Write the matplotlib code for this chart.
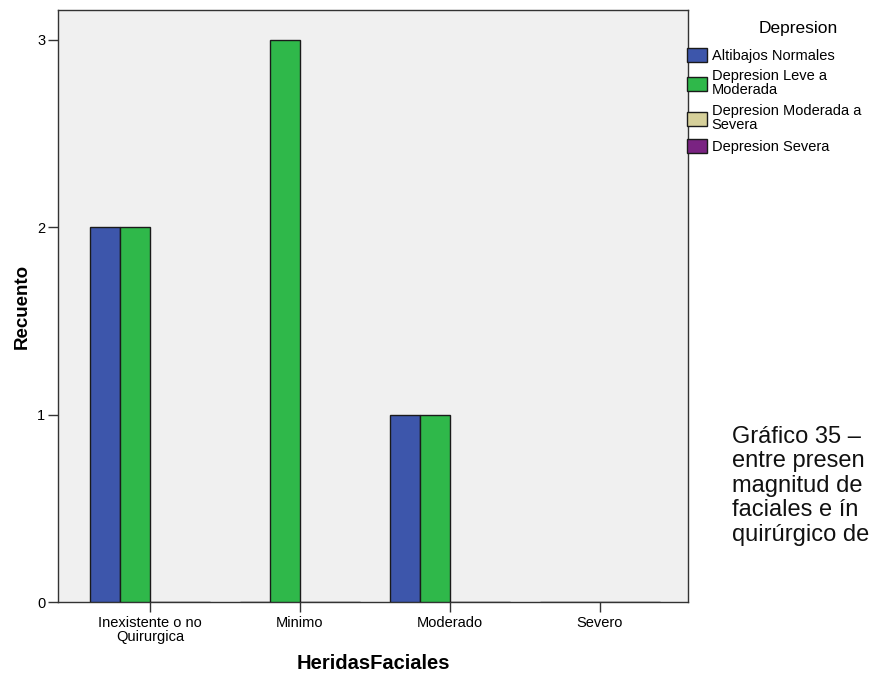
import matplotlib.pyplot as plt
import numpy as np
from matplotlib.patches import Patch

plt.rcParams['font.family'] = ['Liberation Sans', 'DejaVu Sans']

categories = ["Inexistente o no\nQuirurgica", "Minimo", "Moderado", "Severo"]
series_names = ["Altibajos Normales", "Depresion Leve a\nModerada",
                "Depresion Moderada a\nSevera", "Depresion Severa"]
altibajos = [2, 0, 1, 0]
leve_moderada = [2, 3, 1, 0]
moderada_severa = [0, 0, 0, 0]
severa = [0, 0, 0, 0]
colors = ["#3d56ab", "#2fb84a", "#d6d09a", "#7a2382"]

# caption from the document page, cut by the right edge of the picture
caption_lines = ["Gráfico 35 –", "entre presen", "magnitud de",
                 "faciales e ín", "quirúrgico de"]

fig = plt.figure(figsize=(8.8, 6.75), dpi=100)
ax = fig.add_axes([58 / 880, 73 / 675, 630 / 880, 592 / 675])
ax.set_facecolor("#f0f0f0")

x = np.arange(len(categories))
width = 0.2
series = [altibajos, leve_moderada, moderada_severa, severa]
for i, (vals, col) in enumerate(zip(series, colors)):
    ax.bar(x + (i - 1.5) * width, vals, width, color=col,
           edgecolor="#1a1a1a", linewidth=1.0, zorder=3)

ax.set_xlim(-0.613, 3.587)
ax.set_ylim(0, 3.158)
ax.set_xticks(x)
ax.set_xticklabels(categories, fontsize=10.5, linespacing=1.05)
ax.set_yticks([0, 1, 2, 3])
ax.set_yticklabels(["0", "1", "2", "3"], fontsize=10.5)
ax.tick_params(axis="x", length=7, width=1, color="#333333", pad=3)
ax.tick_params(axis="y", length=7, width=1, color="#333333", pad=2)
for s in ax.spines.values():
    s.set_color("#333333")
    s.set_linewidth(1.0)

ax.set_xlabel("HeridasFaciales", fontsize=14.5, fontweight="bold", labelpad=7)
ax.set_ylabel("Recuento", fontsize=13.5, fontweight="bold", labelpad=5)

# legend: title placed on its own, entries under it
fig.text(798 / 880, 1 - 28 / 675, "Depresion", fontsize=12.5,
         ha="center", va="center")
handles = [Patch(facecolor=c, edgecolor="#1a1a1a", linewidth=1.0) for c in colors]
leg = fig.legend(handles, series_names, loc="upper left",
                 bbox_to_anchor=(684 / 880, 1 - 45 / 675), frameon=False,
                 fontsize=10.5, handlelength=1.4, handleheight=1.1,
                 handletextpad=0.3, labelspacing=0.45, borderpad=0.2,
                 borderaxespad=0.0)
for t in leg.get_texts():
    t.set_linespacing(1.0)

for k, line in enumerate(caption_lines):
    fig.text(732 / 880, 1 - (437 + k * 24.5) / 675, line, fontsize=17,
             va="center", ha="left", color="#111111")

fig.savefig("out.png", dpi=100)
